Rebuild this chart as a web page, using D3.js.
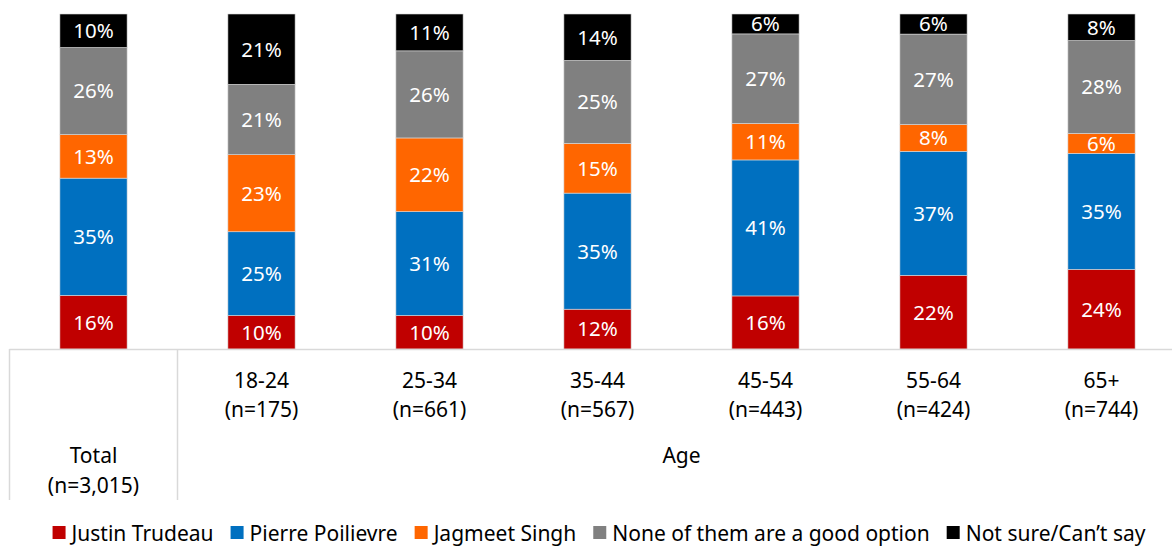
<!DOCTYPE html>
<html>
<head>
<meta charset="utf-8">
<script src="https://cdn.jsdelivr.net/npm/d3@7"></script>
<style>
  html, body { margin: 0; padding: 0; background: #fff; }
  svg { display: block; font-family: "Noto Sans", "Open Sans", sans-serif; }
</style>
</head>
<body>
<svg id="chart" width="1172" height="547"></svg>
<script>
// ---- Data ----
const categories = ["Total", "18-24", "25-34", "35-44", "45-54", "55-64", "65+"];
const sampleSizes = ["(n=3,015)", "(n=175)", "(n=661)", "(n=567)", "(n=443)", "(n=424)", "(n=744)"];
const groupLabel = "Age";
const seriesNames = ["Justin Trudeau", "Pierre Poilievre", "Jagmeet Singh", "None of them are a good option", "Not sure/Can\u2019t say"];
const trudeau   = [16, 10, 10, 12, 16, 22, 24];
const poilievre = [35, 25, 31, 35, 41, 37, 35];
const singh     = [13, 23, 22, 15, 11, 8, 6];
const noneGood  = [26, 21, 26, 25, 27, 27, 28];
const notSure   = [10, 21, 11, 14, 6, 6, 8];
const seriesColors = ["#C00000", "#0070C0", "#FF6600", "#808080", "#000000"];

// ---- Build table ----
const seriesValues = [trudeau, poilievre, singh, noneGood, notSure];
const keys = seriesNames;
const rows = categories.map((c, i) => {
  const r = { category: c };
  keys.forEach((k, j) => r[k] = seriesValues[j][i]);
  return r;
});

const svg = d3.select("#chart");
const plotTop = 14, plotBottom = 349;

const x = d3.scaleBand()
  .domain(categories)
  .range([9.5, 1185.5])
  .paddingInner(0.6)
  .paddingOuter(0.3);
const step = x.step();

const y = d3.scaleLinear().domain([0, 1]).range([plotBottom, plotTop]);

const stack = d3.stack().keys(keys).offset(d3.stackOffsetExpand);
const stacked = stack(rows);

const color = d3.scaleOrdinal().domain(keys).range(seriesColors);

const layers = svg.append("g").selectAll("g")
  .data(stacked)
  .join("g")
  .attr("fill", d => color(d.key));

layers.selectAll("rect")
  .data(d => d)
  .join("rect")
  .attr("x", d => x(d.data.category))
  .attr("width", x.bandwidth())
  .attr("y", d => y(d[1]))
  .attr("height", d => y(d[0]) - y(d[1]))
  .attr("stroke", "#d9d9d9")
  .attr("stroke-width", 0.6);

layers.selectAll("text")
  .data(d => d.map(v => ({ v, key: d.key })))
  .join("text")
  .attr("x", d => x(d.v.data.category) + x.bandwidth() / 2)
  .attr("y", d => (y(d.v[0]) + y(d.v[1])) / 2)
  .attr("dy", "0.36em")
  .attr("text-anchor", "middle")
  .attr("fill", "#fff")
  .attr("font-size", 20.5)
  .text(d => d.v.data[d.key] + "%");

// ---- Category axis (table-like) ----
const lineColor = "#d9d9d9";
const axisG = svg.append("g");
const leftEdge = x.range()[0];
const firstBandEnd = leftEdge + step;
const rightEdge = x.range()[1];
const lineBottom = 500;
const axisFont = 21;

axisG.append("line")
  .attr("x1", leftEdge).attr("x2", rightEdge)
  .attr("y1", plotBottom + 0.5).attr("y2", plotBottom + 0.5)
  .attr("stroke", lineColor).attr("stroke-width", 1.5);

[leftEdge, firstBandEnd, rightEdge].forEach(xx => {
  axisG.append("line")
    .attr("x1", xx).attr("x2", xx)
    .attr("y1", plotBottom).attr("y2", lineBottom)
    .attr("stroke", lineColor).attr("stroke-width", 1.5);
});

categories.forEach((c, i) => {
  const cx = x(c) + x.bandwidth() / 2;
  const y1 = i === 0 ? 463 : 388;
  const y2 = i === 0 ? 493 : 417;
  axisG.append("text").attr("x", cx).attr("y", y1)
    .attr("text-anchor", "middle").attr("font-size", axisFont).attr("fill", "#000").text(c);
  axisG.append("text").attr("x", cx).attr("y", y2)
    .attr("text-anchor", "middle").attr("font-size", axisFont).attr("fill", "#000").text(sampleSizes[i]);
});

axisG.append("text")
  .attr("x", (firstBandEnd + rightEdge) / 2).attr("y", 463)
  .attr("text-anchor", "middle").attr("font-size", axisFont).attr("fill", "#000")
  .text(groupLabel);

// ---- Legend ----
const legend = svg.append("g");
const sq = 13, gapSqText = 6, gapItems = 17, legendFont = 21;
const items = keys.map(k => {
  const t = legend.append("text").attr("font-size", legendFont).attr("fill", "#000").text(k);
  return { k, t, w: t.node().getComputedTextLength() };
});
const totalW = d3.sum(items, d => sq + gapSqText + d.w) + gapItems * (items.length - 1);
let lx = 599 - totalW / 2;
const ly = 541;
items.forEach(d => {
  legend.append("rect").attr("x", lx).attr("y", ly - 15).attr("width", sq).attr("height", sq)
    .attr("fill", color(d.k));
  d.t.attr("x", lx + sq + gapSqText).attr("y", ly);
  lx += sq + gapSqText + d.w + gapItems;
});
</script>
</body>
</html>
